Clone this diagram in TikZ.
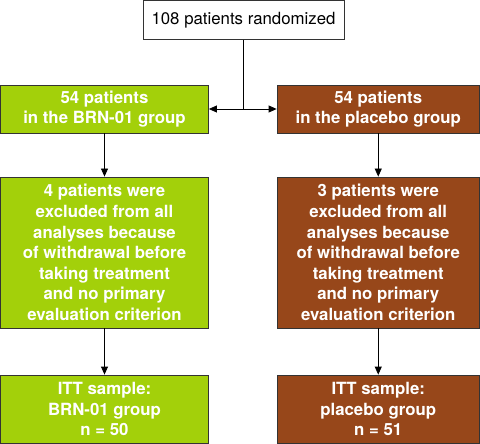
\documentclass[tikz,border=0pt]{standalone}
\usepackage{fontspec}
\setmainfont{TeX Gyre Heros}
\usetikzlibrary{arrows.meta}
\definecolor{grn}{HTML}{A3D00A}
\definecolor{brn}{HTML}{97471A}
\definecolor{edge}{HTML}{333333}
\begin{document}
\begin{tikzpicture}[x=1pt,y=-1pt,
  box/.style={draw=edge,line width=0.8pt,inner sep=0pt,align=center,
    font=\fontsize{16.8}{20.6}\selectfont\bfseries,text=white},
  gbox/.style={box,fill=grn},
  bbox/.style={box,fill=brn},
  conn/.style={draw=black,line width=0.8pt,-{Triangle[length=8pt,width=7pt]}}]
\useasboundingbox (0,0) rectangle (480,444);
\node[draw=edge,line width=0.8pt,fill=white,inner sep=0pt,minimum width=201pt,minimum height=39pt,
  font=\fontsize{16.8}{20.6}\selectfont] (top) at (243.5,20) {108 patients randomized};
\node[gbox,minimum width=208pt,minimum height=48pt] (g1) at (104.5,109) {54 patients\\in the BRN-01 group};
\node[bbox,minimum width=202.5pt,minimum height=48pt] (b1) at (378.25,109) {54 patients\\in the placebo group};
\node[gbox,minimum width=208pt,minimum height=151pt] (g2) at (104.5,252.5) {4 patients were\\excluded from all\\analyses because\\of withdrawal before\\taking treatment\\and no primary\\evaluation criterion};
\node[bbox,minimum width=202.5pt,minimum height=151pt] (b2) at (378.25,252.5) {3 patients were\\excluded from all\\analyses because\\of withdrawal before\\taking treatment\\and no primary\\evaluation criterion};
\node[gbox,minimum width=208pt,minimum height=68.5pt] (g3) at (104.5,409.25) {ITT sample:\\BRN-01 group\\n = 50};
\node[bbox,minimum width=202.5pt,minimum height=68.5pt] (b3) at (378.25,409.25) {ITT sample:\\placebo group\\n = 51};
\coordinate (split) at (top.south |- g1.east);
\draw[line width=0.8pt] (top.south) -- (split);
\draw[conn] (split) -- (g1.east);
\draw[conn] (split) -- (b1.west);
\draw[conn] (g1.south) -- (g2.north);
\draw[conn] (b1.south) -- (b2.north);
\draw[conn] (g2.south) -- (g3.north);
\draw[conn] (b2.south) -- (b3.north);
\end{tikzpicture}
\end{document}
